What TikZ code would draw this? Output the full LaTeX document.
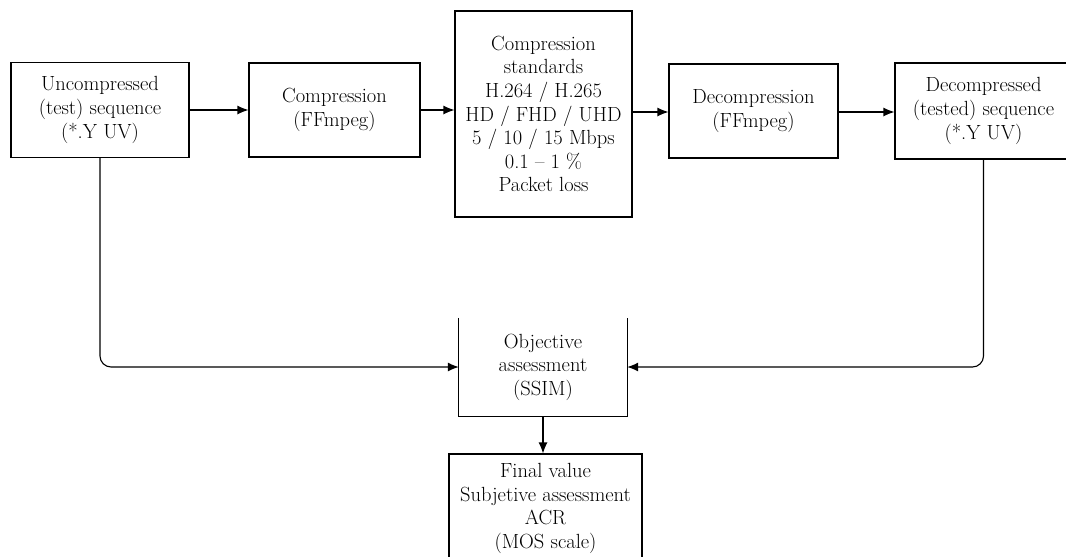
\documentclass[tikz,border=0pt]{standalone}
\usetikzlibrary{arrows.meta}
\begin{document}
\begin{tikzpicture}[x=1pt,y=-1pt,
  every node/.style={font=\fontsize{20.5}{23.6}\selectfont, align=center, inner sep=0pt},
  box/.style={draw, line width=1.1pt},
  conn/.style={line width=1.1pt, -{Latex[length=11pt,width=9pt]}}]
\clip (0,0) rectangle (1066,557);
\fill[white] (0,0) rectangle (1066,557);
\node[box, minimum width=178, minimum height=95] (b1) at (100,110) {Uncompressed\\(test) sequence\\(*.Y UV)};
\node[box, minimum width=171, minimum height=94] (b2) at (334.5,110) {Compression\\(FFmpeg)};
\node[box, minimum width=177, minimum height=206] (b3) at (543.5,114) {Compression\\standards\\H.264 / H.265\\HD / FHD / UHD\\5 / 10 / 15 Mbps\\0.1 -- 1 \%\\Packet loss};
\node[box, minimum width=169, minimum height=94] (b4) at (753.5,111) {Decompression\\(FFmpeg)};
\node[box, minimum width=177, minimum height=96] (b5) at (983.5,111) {Decompressed\\(tested) sequence\\(*.Y UV)};
\node[minimum width=168, minimum height=98] (obj) at (543,367) {Objective\\assessment\\(SSIM)};
\draw[line width=1.1pt] (obj.north west) -- (obj.south west) -- (obj.south east) -- (obj.north east);
\node[box, minimum width=193, minimum height=109] (fin) at (545.5,508.5) {Final value\\Subjetive assessment\\ACR\\(MOS scale)};
\draw[conn] (b1.east |- 0,110) -- (b2.west |- 0,110);
\draw[conn] (b2.east |- 0,110) -- (b3.west |- 0,110);
\draw[conn] (b3.east |- 0,112) -- (b4.west |- 0,112);
\draw[conn] (b4.east |- 0,112) -- (b5.west |- 0,112);
\draw[conn, rounded corners=11] (b1.south) |- (obj.west);
\draw[conn, rounded corners=11] (b5.south) |- (obj.east);
\draw[conn] (obj.south) -- (obj.south |- fin.north);
\end{tikzpicture}
\end{document}
